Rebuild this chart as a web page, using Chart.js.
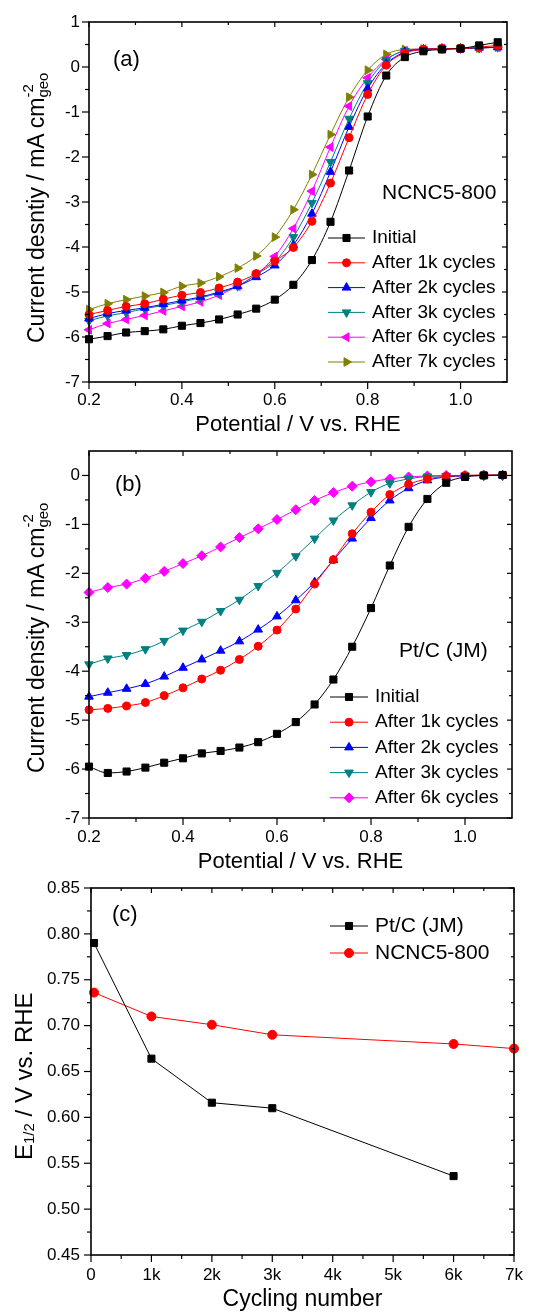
<!DOCTYPE html>
<html>
<head>
<meta charset="utf-8">
<script src="https://cdn.jsdelivr.net/npm/chart.js@4.4.0/dist/chart.umd.min.js"></script>
<style>
  body { margin: 0; background: #fff; }
  .panel { position: absolute; left: 0; width: 534px; }
  .ytitle { position: absolute; transform: rotate(-90deg); transform-origin: 0 0; white-space: nowrap;
            font-family: 'Liberation Sans', Arial, sans-serif; line-height: 1; color: #000; }
  .stk { position: relative; display: inline-block; }
  .stk span { position: absolute; left: 0; font-size: 15px; line-height: 1; }
  .sub { position: relative; font-size: 15px; }
</style>
</head>
<body>
<div class="panel" style="top:0px;height:440px"><canvas id="chartA" width="534" height="440"></canvas></div>
<div class="panel" style="top:440px;height:435px"><canvas id="chartB" width="534" height="435"></canvas></div>
<div class="panel" style="top:875px;height:440px"><canvas id="chartC" width="534" height="440"></canvas></div>

<div class="ytitle" style="left:25px;top:343px;font-size:23px">Current desntiy / mA cm<span class="stk"><span style="top:-24px">-2</span><span style="top:-9px">geo</span></span></div>
<div class="ytitle" style="left:25px;top:773px;font-size:23px">Current density / mA cm<span class="stk"><span style="top:-24px">-2</span><span style="top:-9px">geo</span></span></div>
<div class="ytitle" style="left:12px;top:1160px;font-size:24px">E<span class="sub" style="top:2px">1/2</span> / V vs. RHE</div>

<script>
// potential / V vs. RHE (shared by panels a and b)
var potential = [0.20, 0.24, 0.28, 0.32, 0.36, 0.40, 0.44, 0.48, 0.52, 0.56, 0.60, 0.64, 0.68, 0.72, 0.76, 0.80, 0.84, 0.88, 0.92, 0.96, 1.00, 1.04, 1.08];

// (a) NCNC5-800, current density / mA cm-2
var ncncInitial = [-6.05, -5.98, -5.90, -5.87, -5.83, -5.75, -5.69, -5.61, -5.50, -5.37, -5.17, -4.84, -4.29, -3.44, -2.30, -1.10, -0.19, 0.22, 0.35, 0.39, 0.41, 0.48, 0.55];
var ncnc1k = [-5.50, -5.41, -5.32, -5.26, -5.16, -5.07, -5.01, -4.91, -4.78, -4.59, -4.31, -4.01, -3.43, -2.58, -1.57, -0.61, 0.04, 0.31, 0.39, 0.41, 0.41, 0.44, 0.48];
var ncnc2k = [-5.59, -5.48, -5.41, -5.35, -5.27, -5.19, -5.11, -5.00, -4.87, -4.67, -4.41, -3.96, -3.26, -2.33, -1.33, -0.48, 0.07, 0.33, 0.39, 0.41, 0.41, 0.43, 0.44];
var ncnc3k = [-5.64, -5.53, -5.46, -5.37, -5.30, -5.22, -5.13, -5.02, -4.87, -4.61, -4.33, -3.78, -3.02, -2.11, -1.15, -0.36, 0.15, 0.36, 0.39, 0.41, 0.41, 0.42, 0.44];
var ncnc6k = [-5.84, -5.70, -5.61, -5.52, -5.42, -5.32, -5.22, -5.07, -4.87, -4.61, -4.21, -3.59, -2.76, -1.78, -0.87, -0.24, 0.17, 0.36, 0.40, 0.41, 0.41, 0.42, 0.44];
var ncnc7k = [-5.39, -5.26, -5.17, -5.09, -5.01, -4.87, -4.80, -4.66, -4.47, -4.20, -3.78, -3.17, -2.39, -1.50, -0.67, -0.07, 0.28, 0.39, 0.40, 0.41, 0.41, 0.42, 0.44];

// (b) Pt/C (JM), current density / mA cm-2
var ptInitial = [-5.95, -6.08, -6.05, -5.97, -5.87, -5.78, -5.68, -5.63, -5.56, -5.45, -5.28, -5.04, -4.68, -4.17, -3.50, -2.71, -1.84, -1.05, -0.48, -0.15, -0.03, 0.00, 0.01];
var pt1k = [-4.79, -4.76, -4.71, -4.64, -4.50, -4.34, -4.16, -3.98, -3.76, -3.49, -3.16, -2.73, -2.22, -1.72, -1.19, -0.75, -0.39, -0.18, -0.07, -0.02, 0.00, 0.01, 0.01];
var pt2k = [-4.52, -4.44, -4.36, -4.26, -4.11, -3.93, -3.76, -3.58, -3.39, -3.15, -2.88, -2.55, -2.18, -1.73, -1.29, -0.87, -0.51, -0.26, -0.10, -0.03, -0.01, 0.00, 0.00];
var pt3k = [-3.86, -3.74, -3.67, -3.55, -3.38, -3.17, -2.99, -2.77, -2.54, -2.26, -1.99, -1.65, -1.29, -0.92, -0.61, -0.34, -0.16, -0.07, -0.02, -0.01, 0.00, 0.00, 0.00];
var pt6k = [-2.39, -2.29, -2.22, -2.10, -1.96, -1.80, -1.64, -1.46, -1.27, -1.09, -0.90, -0.70, -0.51, -0.35, -0.22, -0.13, -0.07, -0.03, -0.01, 0.00, 0.00, 0.00, 0.00];

// (c) half-wave potential vs. cycling number
var cyclesPt = [50, 1000, 2000, 3000, 6000];
var e12Pt = [0.790, 0.664, 0.616, 0.610, 0.536];
var cyclesNcnc = [50, 1000, 2000, 3000, 6000, 7000];
var e12Ncnc = [0.736, 0.710, 0.701, 0.690, 0.680, 0.675];

// tick labels
var potentialTicks = [0.2, 0.4, 0.6, 0.8, 1.0];
var potentialMinor = [0.3, 0.5, 0.7, 0.9];
var currentTicksA = [-7, -6, -5, -4, -3, -2, -1, 0, 1];
var currentMinorA = [-6.5, -5.5, -4.5, -3.5, -2.5, -1.5, -0.5, 0.5];
var currentTicksB = [-7, -6, -5, -4, -3, -2, -1, 0];
var currentMinorB = [-6.5, -5.5, -4.5, -3.5, -2.5, -1.5, -0.5];
var e12Ticks = [0.45, 0.50, 0.55, 0.60, 0.65, 0.70, 0.75, 0.80, 0.85];
var e12Minor = [0.475, 0.525, 0.575, 0.625, 0.675, 0.725, 0.775, 0.825];
var cycleTicks = [0, 1000, 2000, 3000, 4000, 5000, 6000, 7000];
var cycleTickLabels = ['0', '1k', '2k', '3k', '4k', '5k', '6k', '7k'];
var cycleMinor = [500, 1500, 2500, 3500, 4500, 5500, 6500];

Chart.defaults.font.family = "'Liberation Sans', Arial, sans-serif";
Chart.defaults.color = '#000';
var FONT = "'Liberation Sans', Arial, sans-serif";

function pairs(xs, ys) {
  return xs.map(function (x, i) { return { x: x, y: ys[i] }; });
}

function series(label, xs, ys, color, style, rot, r) {
  return {
    label: label,
    data: pairs(xs, ys),
    borderColor: color,
    backgroundColor: color,
    borderWidth: 1,
    pointStyle: style,
    rotation: rot,
    pointRadius: r,
    pointBorderWidth: 1,
    pointHoverRadius: r,
    cubicInterpolationMode: 'monotone',
    clip: false
  };
}

// axes box, minor ticks, inward ticks on top and right
var framePlugin = {
  id: 'frame',
  afterDatasetsDraw: function (chart, args, o) {
    var ctx = chart.ctx, a = chart.chartArea, xs = chart.scales.x, ys = chart.scales.y;
    ctx.save();
    ctx.strokeStyle = '#000';
    function seg(x1, y1, x2, y2) { ctx.beginPath(); ctx.moveTo(x1, y1); ctx.lineTo(x2, y2); ctx.stroke(); }
    ctx.lineWidth = 1.2;
    o.xMajor.forEach(function (v) { var p = xs.getPixelForValue(v); seg(p, a.bottom, p, a.bottom + 7); seg(p, a.top, p, a.top + 5); });
    o.xMinor.forEach(function (v) { var p = xs.getPixelForValue(v); seg(p, a.bottom, p, a.bottom + 4); seg(p, a.top, p, a.top + 3); });
    o.yMajor.forEach(function (v) { var p = ys.getPixelForValue(v); seg(a.left, p, a.left - 7, p); seg(a.right, p, a.right - 5, p); });
    o.yMinor.forEach(function (v) { var p = ys.getPixelForValue(v); seg(a.left, p, a.left - 4, p); seg(a.right, p, a.right - 3, p); });
    ctx.lineWidth = 1.6;
    ctx.strokeRect(a.left, a.top, a.right - a.left, a.bottom - a.top);
    ctx.restore();
  }
};

// legend drawn inside the plot with line + marker samples
var boxLegendPlugin = {
  id: 'boxLegend',
  afterDraw: function (chart, args, o) {
    var ctx = chart.ctx;
    ctx.save();
    chart.data.datasets.forEach(function (ds, i) {
      var y = o.y + i * o.step;
      ctx.strokeStyle = ds.borderColor;
      ctx.fillStyle = ds.backgroundColor;
      ctx.lineWidth = 1;
      ctx.beginPath(); ctx.moveTo(o.x1, y); ctx.lineTo(o.x2, y); ctx.stroke();
      Chart.helpers.drawPoint(ctx, { pointStyle: ds.pointStyle, rotation: ds.rotation, radius: ds.pointRadius, borderWidth: 1 }, (o.x1 + o.x2) / 2, y);
      ctx.fillStyle = '#000';
      ctx.font = o.size + 'px ' + FONT;
      ctx.textBaseline = 'middle';
      ctx.textAlign = 'left';
      ctx.fillText(ds.label, o.tx, y);
    });
    ctx.restore();
  }
};

// free labels inside the plot: panel letter and sample name
var notesPlugin = {
  id: 'notes',
  afterDraw: function (chart, args, o) {
    var ctx = chart.ctx;
    ctx.save();
    ctx.fillStyle = '#000';
    ctx.textBaseline = 'middle';
    ctx.textAlign = 'left';
    o.labels.forEach(function (l) {
      ctx.font = l.size + 'px ' + FONT;
      ctx.fillText(l.text, l.x, l.y);
    });
    ctx.restore();
  }
};

function fixedTicks(list) {
  return function (scale) { scale.ticks = list.map(function (v) { return { value: v }; }); };
}

function makeChart(id, datasets, cfg) {
  return new Chart(document.getElementById(id), {
    type: 'line',
    data: { datasets: datasets },
    options: {
      responsive: false,
      animation: false,
      events: [],
      layout: { padding: { left: 0, right: cfg.right, top: cfg.top, bottom: 0 } },
      scales: {
        x: {
          type: 'linear', min: cfg.xMin, max: cfg.xMax,
          afterBuildTicks: fixedTicks(cfg.xTicks),
          afterFit: function (s) { s.height = cfg.xHeight; s.paddingLeft = 0; s.paddingRight = 0; },
          grid: { display: false, drawTicks: false },
          border: { display: false },
          ticks: { font: { size: 17 }, padding: cfg.xPad, maxRotation: 0, autoSkip: false, callback: cfg.xFmt },
          title: { display: true, text: cfg.xTitle, font: { size: cfg.xTitleSize }, padding: { top: 0, bottom: cfg.xTitlePad } }
        },
        y: {
          type: 'linear', min: cfg.yMin, max: cfg.yMax,
          afterBuildTicks: fixedTicks(cfg.yTicks),
          afterFit: function (s) { s.width = cfg.left; s.paddingTop = 0; s.paddingBottom = 0; },
          grid: { display: false, drawTicks: false },
          border: { display: false },
          ticks: { font: { size: 17 }, padding: cfg.yPad, autoSkip: false, callback: cfg.yFmt }
        }
      },
      plugins: {
        legend: { display: false },
        tooltip: { enabled: false },
        frame: { xMajor: cfg.xTicks, xMinor: cfg.xMinor, yMajor: cfg.yTicks, yMinor: cfg.yMinor },
        boxLegend: cfg.legend,
        notes: { labels: cfg.labels }
      }
    },
    plugins: [framePlugin, boxLegendPlugin, notesPlugin]
  });
}

makeChart('chartA', [
  series('Initial', potential, ncncInitial, '#000000', 'rect', 0, 5),
  series('After 1k cycles', potential, ncnc1k, '#ff0000', 'circle', 0, 4),
  series('After 2k cycles', potential, ncnc2k, '#0000ff', 'triangle', 0, 5),
  series('After 3k cycles', potential, ncnc3k, '#008080', 'triangle', 180, 5),
  series('After 6k cycles', potential, ncnc6k, '#ff00ff', 'triangle', 270, 5),
  series('After 7k cycles', potential, ncnc7k, '#808000', 'triangle', 90, 5)
], {
  left: 89, right: 27, top: 22, xHeight: 58,
  xMin: 0.2, xMax: 1.1, yMin: -7, yMax: 1,
  xTicks: potentialTicks, xMinor: potentialMinor, yTicks: currentTicksA, yMinor: currentMinorA,
  xFmt: function (v) { return v.toFixed(1); }, yFmt: function (v) { return String(v); },
  xPad: 8, yPad: 9, xTitle: 'Potential / V vs. RHE', xTitleSize: 22, xTitlePad: 2,
  legend: { x1: 328, x2: 365, tx: 372, y: 238, step: 24.8, size: 19 },
  labels: [{ text: '(a)', x: 113, y: 60, size: 22 }, { text: 'NCNC5-800', x: 382, y: 193, size: 21 }]
});

makeChart('chartB', [
  series('Initial', potential, ptInitial, '#000000', 'rect', 0, 5),
  series('After 1k cycles', potential, pt1k, '#ff0000', 'circle', 0, 4),
  series('After 2k cycles', potential, pt2k, '#0000ff', 'triangle', 0, 5),
  series('After 3k cycles', potential, pt3k, '#008080', 'triangle', 180, 5),
  series('After 6k cycles', potential, pt6k, '#ff00ff', 'rectRot', 0, 5)
], {
  left: 89, right: 22, top: 11, xHeight: 57,
  xMin: 0.2, xMax: 1.1, yMin: -7, yMax: 0.5,
  xTicks: potentialTicks, xMinor: potentialMinor, yTicks: currentTicksB, yMinor: currentMinorB,
  xFmt: function (v) { return v.toFixed(1); }, yFmt: function (v) { return String(v); },
  xPad: 9, yPad: 9, xTitle: 'Potential / V vs. RHE', xTitleSize: 22, xTitlePad: 0,
  legend: { x1: 330, x2: 368, tx: 375, y: 257, step: 25.2, size: 19 },
  labels: [{ text: '(b)', x: 115, y: 45, size: 22 }, { text: 'Pt/C (JM)', x: 399, y: 211, size: 21 }]
});

makeChart('chartC', [
  Object.assign(series('Pt/C (JM)', cyclesPt, e12Pt, '#000000', 'rect', 0, 5), { cubicInterpolationMode: 'default', tension: 0 }),
  Object.assign(series('NCNC5-800', cyclesNcnc, e12Ncnc, '#ff0000', 'circle', 0, 4.5), { cubicInterpolationMode: 'default', tension: 0 })
], {
  left: 91, right: 20, top: 13, xHeight: 60,
  xMin: 0, xMax: 7000, yMin: 0.45, yMax: 0.85,
  xTicks: cycleTicks, xMinor: cycleMinor, yTicks: e12Ticks, yMinor: e12Minor,
  xFmt: function (v) { return cycleTickLabels[cycleTicks.indexOf(v)]; }, yFmt: function (v) { return v.toFixed(2); },
  xPad: 10, yPad: 11, xTitle: 'Cycling number', xTitleSize: 23, xTitlePad: 2,
  legend: { x1: 330, x2: 368, tx: 375, y: 51, step: 27, size: 21 },
  labels: [{ text: '(c)', x: 112, y: 40, size: 22 }]
});
</script>
</body>
</html>
